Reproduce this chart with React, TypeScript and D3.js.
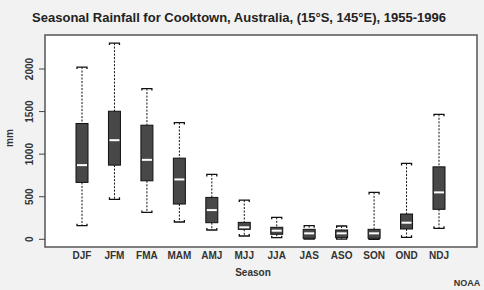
import React from "react";
import { scaleLinear, scalePoint } from "d3";

// seasonal rainfall boxplot stats (mm)
const seasons = ["DJF", "JFM", "FMA", "MAM", "AMJ", "MJJ", "JJA", "JAS", "ASO", "SON", "OND", "NDJ"];
const whiskerLow = [160, 469, 316, 203, 109, 39, 19, 3, 3, 0, 23, 129];
const boxLow = [668, 871, 687, 414, 195, 117, 59, 12, 19, 12, 121, 352];
const medians = [871, 1164, 933, 703, 343, 141, 101, 70, 70, 70, 195, 551];
const boxHigh = [1360, 1504, 1340, 953, 492, 199, 141, 117, 109, 117, 297, 851];
const whiskerHigh = [2023, 2304, 1770, 1371, 762, 461, 258, 160, 156, 551, 891, 1468];
const yTicks = [0, 500, 1000, 1500, 2000];

const W = 484;
const H = 290;
const plot = { left: 45, right: 477, top: 35, bottom: 247 };
const font = "'Liberation Sans', Arial, sans-serif";

function App() {
  const x = scalePoint<string>().domain(seasons).range([82, 439]);
  const y = scaleLinear().domain([0, 2000]).range([239.3, 69]);
  const boxW = 12;
  const capW = 10;

  return (
    <svg
      width={W}
      height={H}
      style={{ position: "absolute", left: 0, top: 0, background: "#f2f2f2", fontFamily: font }}
    >
      <text x={239} y={22} textAnchor="middle" fontSize={13} fontWeight="bold" fill="#222">
        Seasonal Rainfall for Cooktown, Australia, (15°S, 145°E), 1955-1996
      </text>

      <rect
        x={plot.left}
        y={plot.top}
        width={plot.right - plot.left}
        height={plot.bottom - plot.top}
        fill="#fff"
        stroke="#555"
        strokeWidth={1.5}
      />

      {yTicks.map((t) => (
        <g key={t}>
          <line x1={39} x2={plot.left} y1={y(t)} y2={y(t)} stroke="#444" />
          <text
            transform={`translate(33,${y(t)}) rotate(-90)`}
            textAnchor="middle"
            fontSize={10}
            fontWeight="bold"
            fill="#333"
          >
            {t}
          </text>
        </g>
      ))}
      <text transform="translate(13,138) rotate(-90)" textAnchor="middle" fontSize={10} fontWeight="bold" fill="#333">
        mm
      </text>

      {seasons.map((s, i) => {
        const cx = x(s) as number;
        const hi = y(whiskerHigh[i]);
        const lo = y(whiskerLow[i]);
        return (
          <g key={s}>
            <line x1={cx} x2={cx} y1={hi} y2={y(boxHigh[i])} stroke="#111" strokeDasharray="2,1.5" />
            <line x1={cx} x2={cx} y1={y(boxLow[i])} y2={lo} stroke="#111" strokeDasharray="2,1.5" />
            {/* bracket-like caps */}
            <path
              d={`M${cx - capW / 2},${hi + 2}V${hi}H${cx + capW / 2}V${hi + 2}`}
              fill="none"
              stroke="#111"
              strokeWidth={1.3}
            />
            <path
              d={`M${cx - capW / 2},${lo - 2}V${lo}H${cx + capW / 2}V${lo - 2}`}
              fill="none"
              stroke="#111"
              strokeWidth={1.3}
            />
            <rect
              x={cx - boxW / 2}
              y={y(boxHigh[i])}
              width={boxW}
              height={y(boxLow[i]) - y(boxHigh[i])}
              fill="#484848"
              stroke="#111"
              strokeWidth={1}
            />
            <line x1={cx - boxW / 2 + 1} x2={cx + boxW / 2 - 1} y1={y(medians[i])} y2={y(medians[i])} stroke="#fff" strokeWidth={2} />
            <text x={cx} y={259} textAnchor="middle" fontSize={10} fontWeight="bold" fill="#333">
              {s}
            </text>
          </g>
        );
      })}

      <text x={253} y={276} textAnchor="middle" fontSize={10} fontWeight="bold" fill="#333">
        Season
      </text>
      <text x={467} y={286} textAnchor="middle" fontSize={9} fontWeight="bold" fill="#333">
        NOAA
      </text>
    </svg>
  );
}

export default App;
